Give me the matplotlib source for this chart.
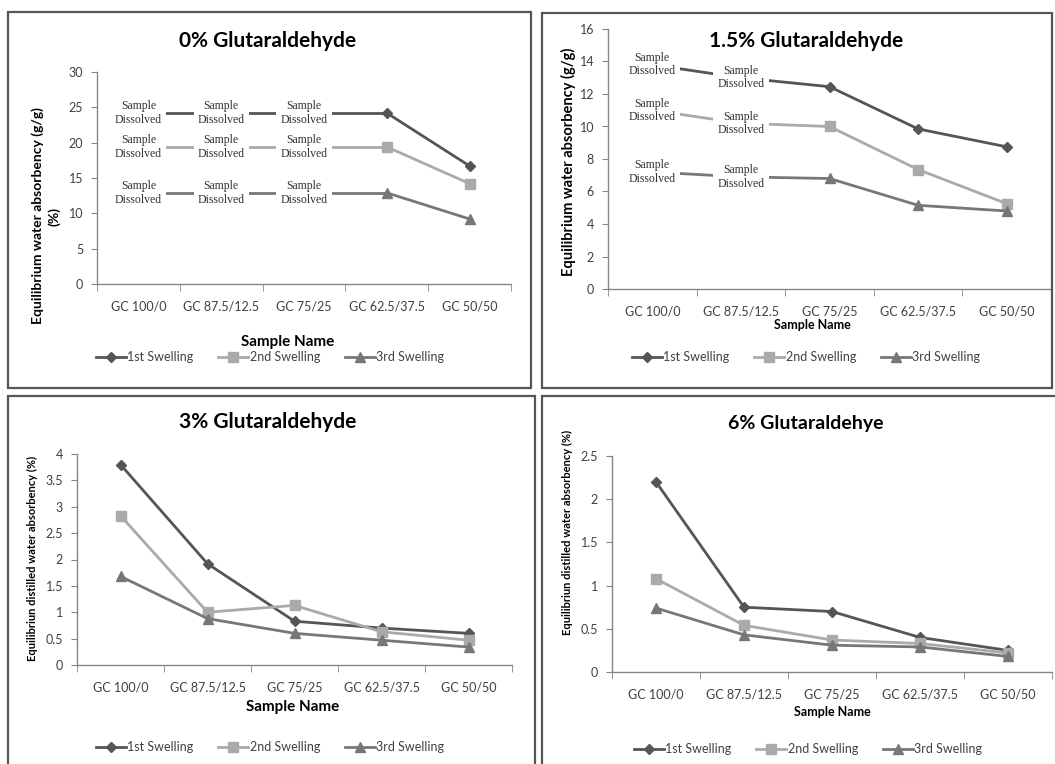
import matplotlib
matplotlib.use("Agg")
import matplotlib.pyplot as plt
from matplotlib.patches import Rectangle
from matplotlib.lines import Line2D
import numpy as np

W, H = 1055, 764
plt.rcParams['font.family'] = ['Lato', 'DejaVu Sans']

samples = ["GC 100/0", "GC 87.5/12.5", "GC 75/25", "GC 62.5/37.5", "GC 50/50"]
names = ["1st Swelling", "2nd Swelling", "3rd Swelling"]

# 0% glutaraldehyde: first three samples dissolved
g0_first = [None, None, None, 24.2, 16.7]
g0_second = [None, None, None, 19.4, 14.2]
g0_third = [None, None, None, 12.9, 9.2]
g0_dissolved = [[24.2, 24.2, 24.2], [19.4, 19.4, 19.4], [12.9, 12.9, 12.9]]

# 1.5% glutaraldehyde: first two samples dissolved
g15_first = [None, None, 12.45, 9.85, 8.75]
g15_second = [None, None, 10.0, 7.35, 5.25]
g15_third = [None, None, 6.8, 5.15, 4.8]
g15_dissolved = [[13.8, 13.0], [11.0, 10.2], [7.2, 6.9]]

g3_first = [3.8, 1.92, 0.83, 0.70, 0.60]
g3_second = [2.83, 1.0, 1.13, 0.63, 0.47]
g3_third = [1.68, 0.88, 0.60, 0.47, 0.34]

g6_first = [2.2, 0.75, 0.70, 0.40, 0.25]
g6_second = [1.08, 0.54, 0.37, 0.33, 0.22]
g6_third = [0.74, 0.43, 0.31, 0.29, 0.18]

colors = ['#555555', '#aaaaaa', '#777777']
markers = ['D', 's', '^']
msizes = [5, 7, 7]
axis_col = '#868686'


def fx(x):
    return x / W


def fy(y):
    return 1 - y / H


def border(fig, x0, y0, x1, y1):
    fig.add_artist(Rectangle((fx(x0), fy(y1)), fx(x1 - x0), (y1 - y0) / H,
                             transform=fig.transFigure, fill=False,
                             ec='#555555', lw=1.6))


def panel(fig, box, ymax, ystep, series, dissolved, tick_size=9):
    x0, y0, x1, y1 = box
    ax = fig.add_axes([fx(x0), fy(y1), fx(x1 - x0), (y1 - y0) / H])
    xs = np.arange(len(samples))
    for i in range(3):
        vals = np.array([np.nan if v is None else v for v in series[i]])
        ax.plot(xs, vals, color=colors[i], lw=2, marker=markers[i],
                ms=msizes[i], mfc=colors[i], mec=colors[i], zorder=3)
        if dissolved:
            d = dissolved[i]
            k = len(d)
            ax.plot(list(range(k)) + [k], d + [vals[k]], color=colors[i],
                    lw=2, zorder=2)
            for j in range(k):
                ax.text(j, d[j], "Sample\nDissolved", ha='center', va='center',
                        family='Liberation Serif', fontsize=8.5, color='#333333',
                        linespacing=1.15, zorder=4,
                        bbox=dict(fc='white', ec='none', pad=3))
    ax.set_xlim(-0.5, len(samples) - 0.5)
    ax.set_ylim(0, ymax)
    ax.set_xticks(xs)
    ax.set_xticklabels(samples)
    ax.set_xticks(np.arange(-0.5, len(samples)), minor=True)
    yt = np.arange(0, ymax + ystep / 2, ystep)
    ax.set_yticks(yt)
    ax.set_yticklabels(['{:g}'.format(v) for v in yt])
    ax.tick_params(axis='x', which='major', length=0, pad=12,
                   labelsize=tick_size, labelcolor='#404040')
    ax.tick_params(axis='x', which='minor', length=5, color=axis_col)
    ax.tick_params(axis='y', length=4, color=axis_col, labelsize=tick_size,
                   labelcolor='#404040', pad=6)
    for s in ['top', 'right']:
        ax.spines[s].set_visible(False)
    for s in ['left', 'bottom']:
        ax.spines[s].set_color(axis_col)
        ax.spines[s].set_linewidth(1)
    ax.patch.set_alpha(0)
    return ax


def legend(fig, cx, cy, size=9):
    handles = [Line2D([], [], color=colors[i], lw=2, marker=markers[i],
                      ms=msizes[i]) for i in range(3)]
    fig.legend(handles, names, loc='center', bbox_to_anchor=(fx(cx), fy(cy)),
               ncol=3, frameon=False, fontsize=size, handlelength=2.4,
               handletextpad=0.1, columnspacing=2.0, labelcolor='#404040')


fig = plt.figure(figsize=(10.55, 7.64), dpi=100)

border(fig, 8, 12, 531, 388)
border(fig, 542, 13, 1052, 388)
border(fig, 8, 396, 535, 772)
border(fig, 542, 396, 1062, 772)

panel(fig, (97, 72, 511, 284), 30, 5, [g0_first, g0_second, g0_third], g0_dissolved)
fig.text(fx(268), fy(41), "0% Glutaraldehyde", ha='center', va='center',
         fontsize=15, fontweight='bold')
fig.text(fx(46), fy(216), "Equilibrium water absorbency (g/g)\n(%)", ha='center',
         va='center', rotation=90, fontsize=10, fontweight='bold', linespacing=1.3)
fig.text(fx(288), fy(342), "Sample Name", ha='center', va='center',
         fontsize=11, fontweight='bold')
legend(fig, 270, 357)

panel(fig, (608, 29, 1051, 289), 16, 2, [g15_first, g15_second, g15_third], g15_dissolved)
fig.text(fx(806), fy(41), "1.5% Glutaraldehyde", ha='center', va='center',
         fontsize=15, fontweight='bold')
fig.text(fx(568), fy(162), "Equilibrium water absorbency (g/g)", ha='center',
         va='center', rotation=90, fontsize=10.5, fontweight='bold')
fig.text(fx(812), fy(325), "Sample Name", ha='center', va='center',
         fontsize=9, fontweight='bold')
legend(fig, 806, 357)

panel(fig, (77, 454, 512, 665), 4, 0.5, [g3_first, g3_second, g3_third], None)
fig.text(fx(268), fy(422), "3% Glutaraldehyde", ha='center', va='center',
         fontsize=15, fontweight='bold')
fig.text(fx(32), fy(558), "Equilibriun distilled water absorbency (%)", ha='center',
         va='center', rotation=90, fontsize=8, fontweight='bold')
fig.text(fx(293), fy(707), "Sample Name", ha='center', va='center',
         fontsize=11, fontweight='bold')
legend(fig, 270, 747)

panel(fig, (612, 456, 1052, 672), 2.5, 0.5, [g6_first, g6_second, g6_third], None)
fig.text(fx(806), fy(423), "6% Glutaraldehye", ha='center', va='center',
         fontsize=14, fontweight='bold')
fig.text(fx(567), fy(532), "Equilibriun distilled water absorbency (%)", ha='center',
         va='center', rotation=90, fontsize=8, fontweight='bold')
fig.text(fx(832), fy(712), "Sample Name", ha='center', va='center',
         fontsize=9, fontweight='bold')
legend(fig, 808, 749)

fig.savefig("out.png", dpi=100)
